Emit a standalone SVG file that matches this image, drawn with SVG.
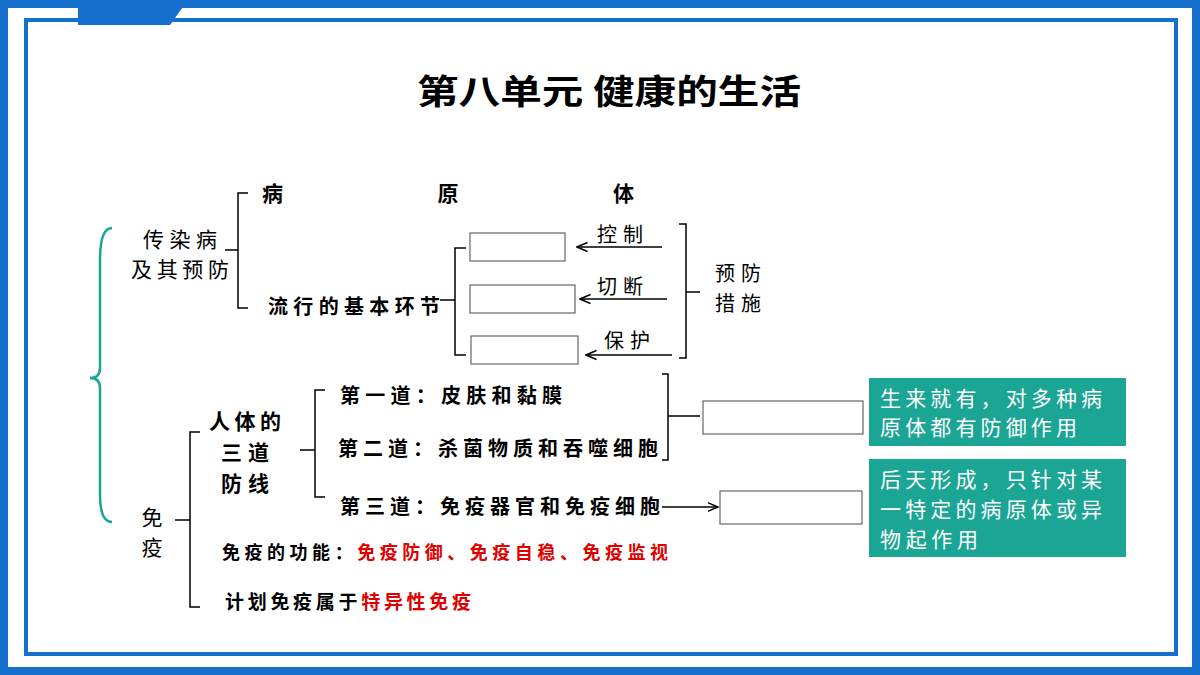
<svg xmlns="http://www.w3.org/2000/svg" width="1200" height="675" viewBox="0 0 1200 675">
<style>
text{font-family:"Noto Sans CJK SC","Noto Sans",sans-serif;fill:#000}
.b{font-weight:bold}
.r{fill:#e00000}
.ln{stroke:#000;stroke-width:1.5;fill:none}
.box{fill:#fff;stroke:#666;stroke-width:1.2}
.tl{fill:#1aa594}
.w{fill:#fff;font-size:21px}
</style>
<defs><marker id="a" markerWidth="8" markerHeight="8" refX="7" refY="4" orient="auto"><path d="M0,1L7,4L0,7" fill="none" stroke="#000" stroke-width="1"/></marker></defs>
<rect x="0" y="0" width="1200" height="675" fill="#fff"/>
<rect x="4" y="4" width="1192" height="667" fill="none" stroke="#1470cc" stroke-width="8"/>
<rect x="26" y="20" width="1150" height="634" fill="none" stroke="#1470cc" stroke-width="4"/>
<path d="M78,4H185L170,25H78Z" fill="#1470cc"/>
<text x="417" y="104" font-size="34" class="b" textLength="384" lengthAdjust="spacingAndGlyphs">第八单元 健康的生活</text>
<g id="connectors">
<path d="M112,228Q100,228 100,260V368Q100,378 90,378Q100,378 100,388V495Q100,522 112,522" stroke="#1aa594" stroke-width="2.5" fill="none"/>
<path class="ln" d="M248,193H238V308H248M225,250H238"/>
<path class="ln" d="M440,300H455M466,248H455V355H466"/>
<path class="ln" d="M662,247H577" marker-end="url(#a)"/>
<path class="ln" d="M667,299H580" marker-end="url(#a)"/>
<path class="ln" d="M672,355H586" marker-end="url(#a)"/>
<path class="ln" d="M679,224H686V358H679M686,292H700"/>
<path class="ln" d="M175,520H190M200,432H190V607H200"/>
<path class="ln" d="M300,450H315M325,390H315V497H325"/>
<path class="ln" d="M662,374H668V460H662M668,416H700"/>
<path class="ln" d="M662,507H718" marker-end="url(#a)"/>
</g>
<g id="n1"><text x="143" y="247" font-size="21" textLength="74">传染病</text><text x="131" y="277" font-size="21" textLength="98">及其预防</text></g>
<g id="n2"><text x="262" y="201" font-size="21" class="b" textLength="372">病原体<tspan class="r"></tspan></text></g>
<g id="n3"><text x="268" y="314" font-size="20" class="b" textLength="172">流行的基本环节</text></g>
<g id="boxes1"><rect class="box" x="470" y="233" width="95" height="28"/><rect class="box" x="470" y="285" width="105" height="28"/><rect class="box" x="471" y="336" width="107" height="28"/></g>
<g id="lbl"><text x="597" y="242" font-size="20" textLength="46">控制</text><text x="597" y="294" font-size="20" textLength="46">切断</text><text x="604" y="348" font-size="20" textLength="46">保护</text></g>
<g id="n4"><text x="715" y="281" font-size="20" textLength="46">预防</text><text x="715" y="311" font-size="20" textLength="46">措施</text></g>
<g id="n5"><text x="152" y="525" font-size="21" text-anchor="middle">免</text><text x="152" y="555" font-size="21" text-anchor="middle">疫</text></g>
<g id="n6"><text x="209" y="429" font-size="21" class="b" textLength="72">人体的</text><text x="221" y="460" font-size="21" class="b" textLength="48">三道</text><text x="221" y="491" font-size="21" class="b" textLength="48">防线</text></g>
<g id="n7"><text x="340" y="403" font-size="20" class="b" textLength="222">第一道：皮肤和黏膜</text><text x="338" y="456" font-size="20" class="b" textLength="320">第二道：杀菌物质和吞噬细胞</text><text x="340" y="514" font-size="20" class="b" textLength="320">第三道：免疫器官和免疫细胞</text></g>
<g id="boxes2"><rect class="box" x="703" y="401" width="160" height="33"/><rect class="box" x="720" y="491" width="142" height="33"/></g>
<g id="t1"><rect class="tl" x="869" y="378" width="257" height="68"/><text class="w" x="880" y="406" textLength="222">生来就有，对多种病</text><text class="w" x="880" y="435" textLength="197">原体都有防御作用</text></g>
<g id="t2"><rect class="tl" x="869" y="459" width="257" height="98"/><text class="w" x="880" y="487" textLength="222">后天形成，只针对某</text><text class="w" x="880" y="517" textLength="222">一特定的病原体或异</text><text class="w" x="880" y="547" textLength="98">物起作用</text></g>
<g id="n8"><text x="222" y="559" font-size="18" class="b" textLength="446">免疫的功能：<tspan class="r">免疫防御、免疫自稳、免疫监视</tspan></text></g>
<g id="n9"><text x="225" y="609" font-size="19" class="b" textLength="246">计划免疫属于<tspan class="r">特异性免疫</tspan></text></g>
</svg>
